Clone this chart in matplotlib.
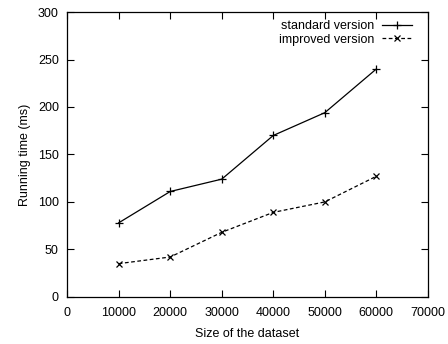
import matplotlib.pyplot as plt

plt.rcParams['font.family'] = ['Liberation Sans', 'DejaVu Sans']
plt.rcParams['font.size'] = 9

sizes = [10000, 20000, 30000, 40000, 50000, 60000]
standard = [78, 111, 124, 170, 194, 240]
improved = [35, 42, 68, 89, 100, 127]

fig = plt.figure(figsize=(4.48, 3.44), dpi=100)
ax = fig.add_axes([0.150, 0.137, 0.805, 0.828])

ax.plot(sizes, standard, color='black', lw=0.9, marker='+', ms=5.5, mew=0.9,
        label='standard version')
ax.plot(sizes, improved, color='black', lw=0.9, ls=(0, (3, 2)), marker='x', ms=4.5,
        mew=0.9, label='improved version')

ax.set_xlim(0, 70000)
ax.set_ylim(0, 300)
ax.set_xticks(range(0, 70001, 10000))
ax.set_yticks(range(0, 301, 50))
ax.tick_params(direction='in', top=True, right=True, length=5, width=0.8)
ax.tick_params(axis='x', pad=7.5)
ax.tick_params(axis='y', pad=6)
for s in ax.spines.values():
    s.set_linewidth(0.9)

ax.set_xlabel('Size of the dataset', labelpad=6)
ax.set_ylabel('Running time (ms)', labelpad=5)

ax.legend(loc='upper right', bbox_to_anchor=(0.97, 0.99), frameon=False,
          markerfirst=False, handlelength=2.4, borderaxespad=0,
          labelspacing=0.15, handletextpad=0.6)

fig.savefig('out.png', dpi=100)
